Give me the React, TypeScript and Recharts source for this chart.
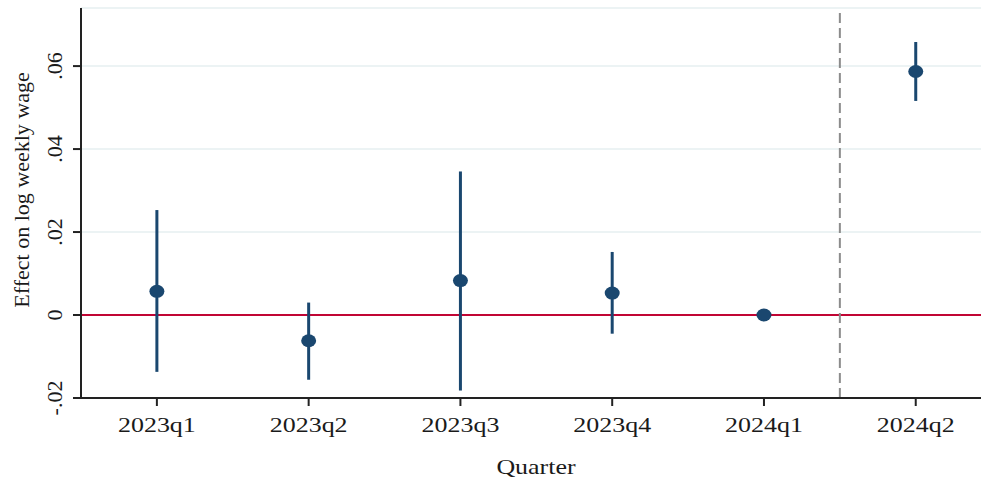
import { ComposedChart, Scatter, ErrorBar, XAxis, YAxis, CartesianGrid, ReferenceLine, Label } from 'recharts'

const quarters = ['2023q1', '2023q2', '2023q3', '2023q4', '2024q1', '2024q2']
const estimates = [0.0057, -0.0062, 0.0083, 0.0053, 0, 0.0587]
const ciLow = [-0.0137, -0.0156, -0.0182, -0.0045, 0, 0.0516]
const ciHigh = [0.0253, 0.003, 0.0346, 0.0152, 0, 0.0658]
const yTicks = [-0.02, 0, 0.02, 0.04, 0.06]

const NAVY = '#1a476f'
const FONT = '"Liberation Serif", "Times New Roman", serif'

// ErrorBar wants offsets from the point, not bounds
const data = quarters.map((q, i) => ({
  idx: i + 1,
  label: q,
  b: estimates[i],
  ci: [estimates[i] - ciLow[i], ciHigh[i] - estimates[i]],
}))

const fmtY = (v: number) => {
  if (v === 0) return '0'
  const s = Math.abs(v).toFixed(2).replace(/^0/, '')
  return v < 0 ? '-' + s : s
}

const XTick = (props: any) => {
  const { x, y, payload } = props
  return (
    <g transform={`translate(${x},${y + 26})`}>
      <text transform="scale(1.18,1)" textAnchor="middle" fontFamily={FONT} fontSize={22} fill="#1a1a1a">
        {quarters[payload.value - 1]}
      </text>
    </g>
  )
}

const YTick = (props: any) => {
  const { y, payload } = props
  return (
    <text
      transform={`translate(62,${y}) rotate(-90)`}
      textAnchor="middle"
      fontFamily={FONT}
      fontSize={22}
      fill="#1a1a1a"
    >
      {fmtY(payload.value)}
    </text>
  )
}

const Dot = (props: any) => {
  const { cx, cy } = props
  return <ellipse cx={cx} cy={cy} rx={7.5} ry={6.5} fill={NAVY} />
}

export default function App() {
  return (
    <div style={{ position: 'absolute', left: 0, top: 0, background: '#fff' }}>
      <ComposedChart width={981} height={480} data={data} margin={{ top: 8, right: 0, bottom: 0, left: 0 }}>
        <CartesianGrid vertical={false} stroke="#e6eff1" strokeWidth={1.5} />
        <XAxis
          type="number"
          dataKey="idx"
          domain={[0.5, 6.43]}
          ticks={[1, 2, 3, 4, 5, 6]}
          allowDataOverflow
          height={82}
          tickSize={8}
          tickMargin={0}
          tick={<XTick />}
          stroke="#222"
          strokeWidth={2}
        >
          <Label
            content={({ viewBox }: any) => (
              <g transform={`translate(${viewBox.x + viewBox.width / 2 + 5},474)`}>
                <text transform="scale(1.18,1)" textAnchor="middle" fontFamily={FONT} fontSize={22} fill="#1a1a1a">
                  Quarter
                </text>
              </g>
            )}
          />
        </XAxis>
        <YAxis
          type="number"
          domain={[-0.02, 0.074]}
          ticks={yTicks}
          allowDataOverflow
          width={81}
          tickSize={8}
          tick={<YTick />}
          stroke="#222"
          strokeWidth={2}
        >
          <Label
            content={({ viewBox }: any) => (
              <text
                transform={`translate(29,${viewBox.y + viewBox.height / 2 - 13}) rotate(-90)`}
                textAnchor="middle"
                fontFamily={FONT}
                fontSize={22}
                fill="#1a1a1a"
              >
                Effect on log weekly wage
              </text>
            )}
          />
        </YAxis>
        <ReferenceLine y={0} stroke="#c10534" strokeWidth={2} />
        <ReferenceLine x={5.5} stroke="#8c8c8c" strokeWidth={2} strokeDasharray="10 5" />
        <Scatter dataKey="b" shape={<Dot />} isAnimationActive={false}>
          <ErrorBar dataKey="ci" direction="y" width={0} stroke={NAVY} strokeWidth={3} />
        </Scatter>
      </ComposedChart>
    </div>
  )
}
